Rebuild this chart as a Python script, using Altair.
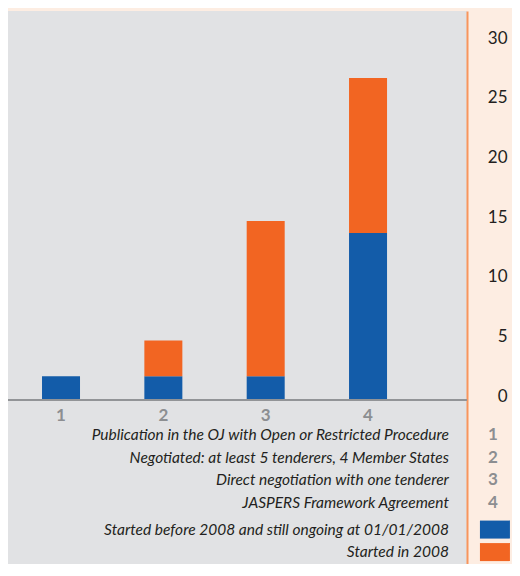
import altair as alt
import pandas as pd

categories = [1, 2, 3, 4]
before_2008 = [2, 2, 2, 14]
started_2008 = [0, 3, 13, 13]
series = ["Started before 2008 and still ongoing at 01/01/2008", "Started in 2008"]
descriptions = [
    "Publication in the OJ with Open or Restricted Procedure",
    "Negotiated: at least 5 tenderers, 4 Member States",
    "Direct negotiation with one tenderer",
    "JASPERS Framework Agreement",
]
y_ticks = [0, 5, 10, 15, 20, 25, 30]
colors = ["#135ca9", "#f26522"]

FONT = "Lato"

rows = []
for c, b, s in zip(categories, before_2008, started_2008):
    rows.append({"cat": c, "series": series[0], "k": 0, "n": b})
    rows.append({"cat": c, "series": series[1], "k": 1, "n": s})
bars_df = pd.DataFrame(rows)
cats_df = pd.DataFrame({"cat": categories})

leg_rows = []
for i, d in enumerate(descriptions):
    leg_rows.append({"slot": i, "label": d, "num": str(categories[i]), "series": ""})
for j, s in enumerate(series):
    leg_rows.append({"slot": 4.2 + j, "label": s, "num": "", "series": s})
leg_df = pd.DataFrame(leg_rows)

# plot area: 459 x 553 px, top at page y=11
xsc = alt.Scale(domain=[0.482, 4.967], nice=False, zero=False, padding=0)
ysc = alt.Scale(domain=[-13.74, 32.61], nice=False, zero=False, padding=0)
csc = alt.Scale(domain=series, range=colors)

bars = alt.Chart(bars_df).mark_bar(width=38, clip=False).encode(
    x=alt.X("cat:Q", scale=xsc, axis=None),
    y=alt.Y(
        "n:Q",
        stack="zero",
        scale=ysc,
        axis=alt.Axis(
            orient="right", values=y_ticks, grid=False, ticks=False, tickSize=0,
            labelPadding=40, labelAlign="right", labelOffset=-4, labelFontSize=17,
            labelColor="#231f20", labelFont=FONT, domainColor="#f8955d",
            domainWidth=2, title=None,
        ),
    ),
    color=alt.Color("series:N", scale=csc, legend=None),
    order=alt.Order("k:Q"),
)

baseline = alt.Chart(cats_df).mark_rule(color="#929497", strokeWidth=2).encode(
    y=alt.YDatum(0, scale=ysc)
)

xlabels = alt.Chart(cats_df).mark_text(
    dy=16, fontSize=17, fontWeight="bold", color="#8c8e91", font=FONT
).encode(
    x=alt.X("cat:Q", scale=xsc),
    y=alt.YDatum(0, scale=ysc),
    text=alt.Text("cat:N"),
)

leg_base = alt.Chart(leg_df).transform_calculate(yv="-2.934 - 1.886*datum.slot")

desc = leg_base.mark_text(
    align="right", fontStyle="italic", fontSize=15.5, color="#231f20", font=FONT, clip=False
).encode(
    x=alt.XDatum(4.79, scale=xsc),
    y=alt.Y("yv:Q", scale=ysc),
    text="label:N",
)

nums = leg_base.transform_filter("datum.num != ''").mark_text(
    fontSize=17, fontWeight="bold", color="#8c8e91", font=FONT, clip=False
).encode(
    x=alt.XDatum(5.22, scale=xsc),
    y=alt.Y("yv:Q", scale=ysc),
    text="num:N",
)

swatches = leg_base.transform_filter("datum.series != ''").mark_point(
    shape="M-1,-0.6H1V0.6H-1Z", size=900, filled=True, opacity=1, strokeWidth=0, clip=False
).encode(
    x=alt.XDatum(5.24, scale=xsc),
    y=alt.Y("yv:Q", scale=ysc),
    color=alt.Color("series:N", scale=csc, legend=None),
)

chart = (
    alt.layer(bars, baseline, xlabels, desc, nums, swatches)
    .properties(
        width=459,
        height=553,
        autosize=alt.AutoSizeParams(type="none"),
        padding={"left": 0, "top": 3, "right": 45, "bottom": 0},
        background="#fdede2",
    )
    .configure_view(fill="#e1e2e4", stroke=None)
)

chart.save("out.html", embed_options={"renderer": "svg", "actions": False})
